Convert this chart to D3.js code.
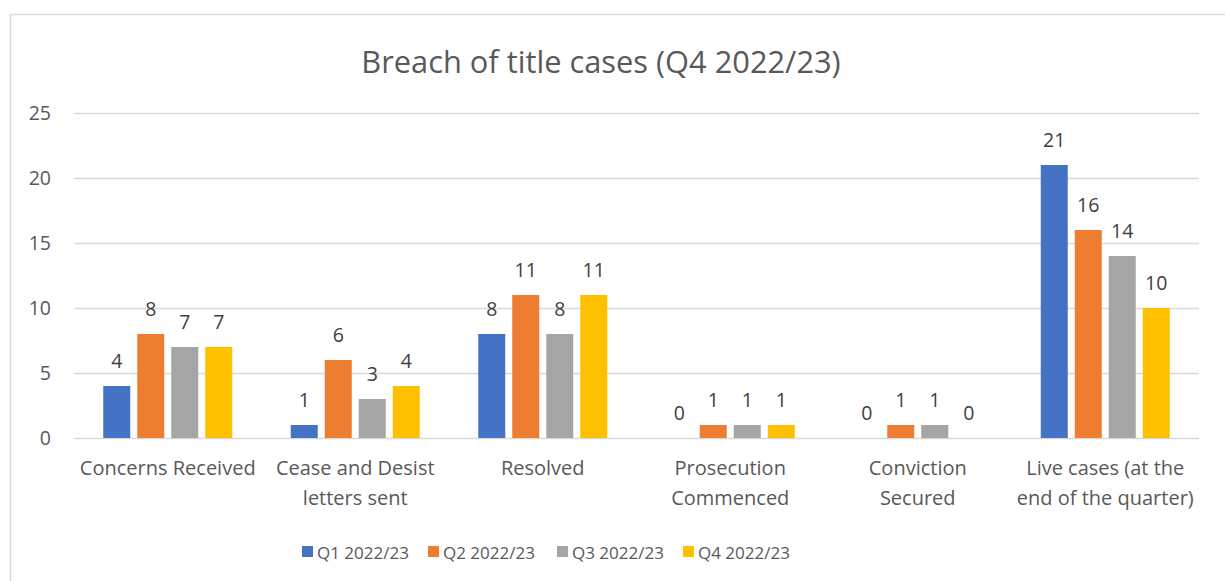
<!DOCTYPE html>
<html><head><meta charset="utf-8">
<script src="https://cdn.jsdelivr.net/npm/d3@7"></script>
<style>body{margin:0;background:#fff}svg{display:block}text{font-family:"Open Sans","Noto Sans",sans-serif}</style>
</head><body><svg id="c" width="1225" height="581"></svg>
<script>
const categories = [["Concerns Received"],["Cease and Desist","letters sent"],["Resolved"],["Prosecution","Commenced"],["Conviction","Secured"],["Live cases (at the","end of the quarter)"]];
const seriesNames = ["Q1 2022/23","Q2 2022/23","Q3 2022/23","Q4 2022/23"];
const q1 = [4,1,8,0,0,21];
const q2 = [8,6,11,1,1,16];
const q3 = [7,3,8,1,1,14];
const q4 = [7,4,11,1,0,10];
const yTicks = [0,5,10,15,20,25];
const colors = ["#4472C4","#ED7D31","#A5A5A5","#FFC000"];
const title = "Breach of title cases (Q4 2022/23)";

const series = [q1,q2,q3,q4];
const svg = d3.select("#c");
svg.append("rect").attr("x",10.5).attr("y",14.5).attr("width",1230).attr("height",600)
  .attr("fill","#fff").attr("stroke","#d9d9d9").attr("stroke-width",1.5);

const L=74,R=1199,T=113,B=438;
const x = d3.scaleBand().domain(d3.range(categories.length)).range([L,R]);
const y = d3.scaleLinear().domain([0,25]).range([B,T]);
const barW = 27, step = 34;

svg.append("text").attr("x",601).attr("y",73).attr("text-anchor","middle")
  .attr("font-size",30.8).attr("fill","#595959").text(title);

const yAxis = svg.append("g").attr("transform",`translate(${L},0)`)
  .call(d3.axisLeft(y).tickValues(yTicks).tickSize(-(R-L)).tickPadding(23));
yAxis.select(".domain").remove();
yAxis.selectAll("line").attr("stroke","#d9d9d9").attr("stroke-width",1.3);
yAxis.selectAll("text").attr("font-size",19.5).attr("fill","#595959").attr("font-family","'Open Sans'").attr("dy","0.35em");

const g = svg.append("g");
series.forEach((s,si)=>{
  s.forEach((v,ci)=>{
    const cx = x(ci)+x.bandwidth()/2 + (si-1.5)*step;
    if(v>0) g.append("rect").attr("x",cx-barW/2).attr("y",y(v)).attr("width",barW).attr("height",B-y(v)).attr("fill",colors[si]);
    g.append("text").attr("x",cx).attr("y",y(v)-18).attr("text-anchor","middle")
      .attr("font-size",19.5).attr("fill","#404040").text(v);
  });
});

const xl = svg.append("g");
categories.forEach((lines,ci)=>{
  const t = xl.append("text").attr("x",x(ci)+x.bandwidth()/2).attr("y",475).attr("text-anchor","middle")
    .attr("font-size",20).attr("fill","#595959");
  lines.forEach((ln,li)=>t.append("tspan").attr("x",x(ci)+x.bandwidth()/2).attr("dy",li?30:0).text(ln));
});

const legX = [302,428,557,683];
const lg = svg.append("g");
seriesNames.forEach((n,i)=>{
  lg.append("rect").attr("x",legX[i]).attr("y",546).attr("width",11).attr("height",11).attr("fill",colors[i]);
  lg.append("text").attr("x",legX[i]+15).attr("y",559).attr("font-size",17).attr("fill","#595959").text(n);
});
</script></body></html>
